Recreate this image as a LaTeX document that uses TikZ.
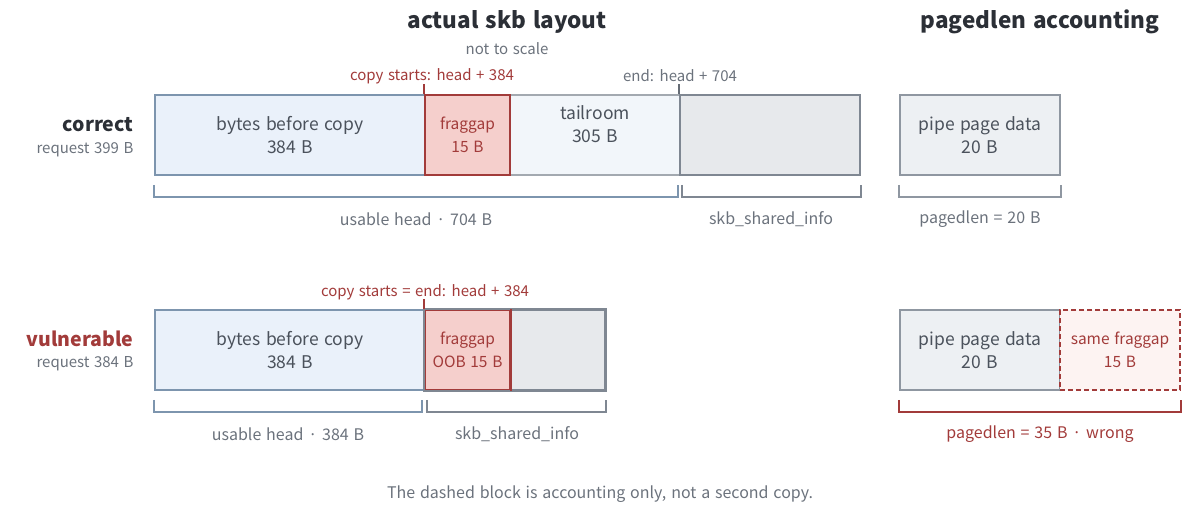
\documentclass[tikz,border=0pt]{standalone}
\usepackage{fontspec}
\setmainfont{Noto Sans CJK KR}[WordSpace=1.35]
\definecolor{ink}{HTML}{2B2F36}
\definecolor{txt}{HTML}{4B525C}
\definecolor{mute}{HTML}{6B727C}
\definecolor{bad}{HTML}{A23B3A}
\definecolor{headfill}{HTML}{EAF1FA}
\definecolor{headline}{HTML}{7D95AE}
\definecolor{gapfill}{HTML}{F5CFCC}
\definecolor{tailfill}{HTML}{F2F6FA}
\definecolor{tailline}{HTML}{A3A9B0}
\definecolor{infofill}{HTML}{E7E9EC}
\definecolor{infoline}{HTML}{7F8792}
\definecolor{pagefill}{HTML}{EDF0F3}
\definecolor{pageline}{HTML}{8F97A1}
\definecolor{ghostfill}{HTML}{FDF3F2}
\begin{document}
\begin{tikzpicture}[x=1pt,y=1pt,
    blk/.style={draw,line width=1.8pt,minimum height=80,inner sep=0pt,align=center,
      text=txt,font=\fontsize{17.5}{23}\selectfont},
    gapblk/.style={blk,fill=gapfill,draw=bad,text=bad,font=\fontsize{15.5}{23}\selectfont},
    brk/.style={line width=1.8pt,draw=#1},
    lbl/.style={text=mute,font=\fontsize{16}{18}\selectfont},
    ttl/.style={text=ink,font=\fontsize{22.5}{26}\selectfont\bfseries}]
  \useasboundingbox (0,0) rectangle (1200,-530);
  % titles
  \node[ttl] (t1) at (507,-22) {actual skb layout};
  \node[lbl,font=\fontsize{15}{17}\selectfont] (t1s) at (507,-49) {not to scale};
  \node[ttl] (t2) at (1040,-22) {pagedlen accounting};
  % row labels
  \node[anchor=east,text=ink,font=\fontsize{19.5}{22}\selectfont\bfseries] (r1) at (137,-125) {correct};
  \node[anchor=east,lbl,font=\fontsize{15}{17}\selectfont] (r1s) at (137,-150) {request 399 B};
  \node[anchor=east,text=bad,font=\fontsize{19.5}{22}\selectfont\bfseries] (r2) at (137,-339) {vulnerable};
  \node[anchor=east,lbl,font=\fontsize{15}{17}\selectfont] (r2s) at (137,-364) {request 384 B};
  % correct row
  \node[blk,fill=headfill,draw=headline,minimum width=270] (head1) at (290,-135) {bytes before copy\\384 B};
  \node[blk,fill=tailfill,draw=tailline,minimum width=170] (tail1) at (595,-135) {tailroom\\305 B\\[-2pt]};
  \node[blk,fill=infofill,draw=infoline,minimum width=180] (info1) at (770,-135) {};
  \node[gapblk,minimum width=85] (gap1) at (467.5,-135) {fraggap\\15 B};
  \node[lbl,text=bad,font=\fontsize{15}{17}\selectfont] (cs1) at (432,-76) {copy starts: head + 384};
  \node[lbl,font=\fontsize{15}{17}\selectfont] (end1) at (680,-76) {end: head + 704};
  \draw[bad,line width=1.5pt] (gap1.north west) -- ++(0,10);
  \draw[infoline!80!black,line width=1.5pt] (info1.north west) -- ++(0,10);
  \draw[brk=headline] ([yshift=-9]head1.south west) -- ++(0,-12) -| ([xshift=-3,yshift=-9]tail1.south east);
  \draw[brk=infoline] ([xshift=3,yshift=-9]info1.south west) -- ++(0,-12) -| ([yshift=-9]info1.south east);
  \node[lbl] (u1) at (416,-219) {usable head · 704 B};
  \node[lbl] (s1) at (771,-219) {skb\_shared\_info};
  \node[blk,fill=pagefill,draw=pageline,minimum width=160] (page1) at (980,-135) {pipe page data\\20 B};
  \draw[brk=pageline] ([yshift=-9]page1.south west) -- ++(0,-12) -| ([yshift=-9]page1.south east);
  \node[lbl] (p1) at (980,-219) {pagedlen = 20 B};
  % vulnerable row
  \node[blk,fill=headfill,draw=headline,minimum width=270] (head2) at (290,-350) {bytes before copy\\384 B};
  \node[blk,fill=infofill,draw=infoline,minimum width=180] (info2) at (515,-350) {};
  \node[gapblk,minimum width=85] (gap2) at (467.5,-350) {fraggap\\OOB 15 B};
  \draw[infoline,line width=1.8pt] (info2.north west) rectangle (info2.south east);
  \draw[bad,line width=1.8pt] (gap2.north east) -- (gap2.south east);
  \node[lbl,text=bad,font=\fontsize{15}{17}\selectfont] (cs2) at (425,-292) {copy starts = end: head + 384};
  \draw[bad,line width=1.5pt] (gap2.north west) -- ++(0,10);
  \draw[brk=headline] ([yshift=-9]head2.south west) -- ++(0,-12) -| ([xshift=-4,yshift=-9]head2.south east);
  \draw[brk=infoline] ([xshift=3,yshift=-9]info2.south west) -- ++(0,-12) -| ([yshift=-9]info2.south east);
  \node[lbl] (u2) at (288,-434) {usable head · 384 B};
  \node[lbl] (s2) at (517,-434) {skb\_shared\_info};
  \node[blk,fill=pagefill,draw=pageline,minimum width=160] (page2) at (980,-350) {pipe page data\\20 B};
  \node[gapblk,fill=ghostfill,dash pattern=on 5pt off 3pt,line width=1.5pt,minimum width=120] (ghost) at (1120,-350) {same fraggap\\15 B};
  \draw[brk=bad] ([yshift=-9]page2.south west) -- ++(0,-12) -| ([yshift=-9]ghost.south east);
  \node[lbl,text=bad] (p2) at (1040,-434) {pagedlen = 35 B · wrong};
  % note
  \node[lbl] (note) at (600,-494) {The dashed block is accounting only, not a second copy.};
\end{tikzpicture}
\end{document}
